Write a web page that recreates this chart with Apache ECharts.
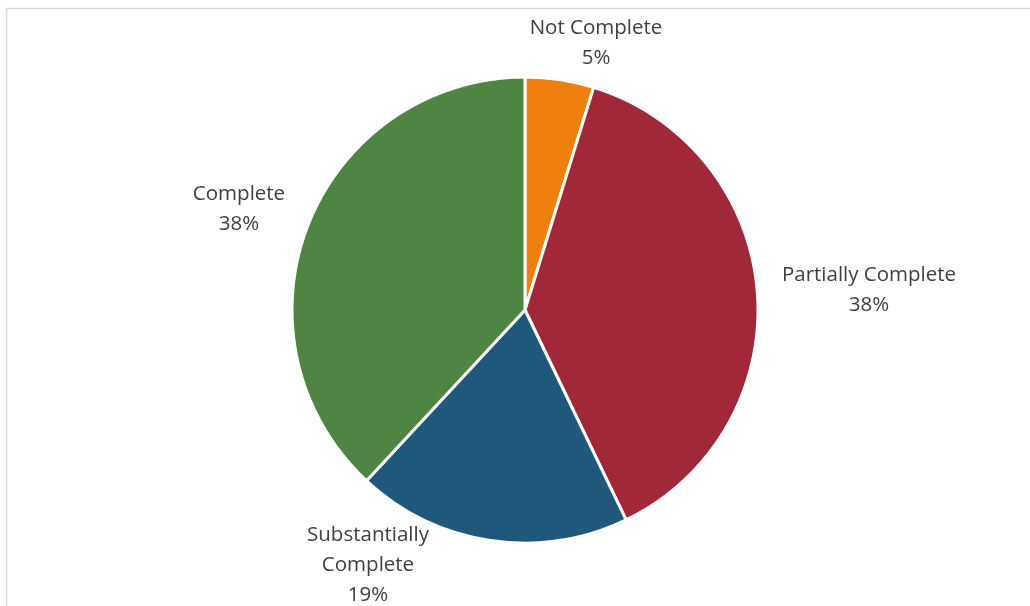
<!DOCTYPE html>
<html><head><meta charset="utf-8">
<script src="https://cdn.jsdelivr.net/npm/echarts@6/dist/echarts.min.js"></script>
<style>html,body{margin:0;padding:0;background:#fff}#c{width:1030px;height:606px}</style>
</head><body><div id="c"></div>
<script>
const categories = ['Not Complete', 'Partially Complete', 'Substantially\nComplete', 'Complete'];
const values = [2, 16, 8, 16];
const percentLabels = ['5%', '38%', '19%', '38%'];
const colors = ['#EF800E', '#A12838', '#1F587A', '#4E8543'];
const labelPos = [[596, 43], [869, 290], [368, 565], [239, 209]];

const chart = echarts.init(document.getElementById('c'), null, {renderer: 'canvas'});
chart.setOption({
  animation: false,
  backgroundColor: '#fff',
  graphic: [{
    type: 'rect', shape: {x: 6.5, y: 8.5, width: 1040, height: 620},
    style: {fill: 'none', stroke: '#D9D9D9', lineWidth: 1.5}, silent: true
  }],
  series: [{
    type: 'pie',
    center: [525, 310],
    radius: 233,
    startAngle: 90,
    clockwise: true,
    data: categories.map((c, i) => ({name: c, value: values[i], itemStyle: {color: colors[i]}})),
    itemStyle: {borderColor: '#fff', borderWidth: 3},
    label: {
      show: true,
      position: 'outside',
      formatter: p => p.name + '\n' + percentLabels[p.dataIndex],
      fontFamily: 'Open Sans',
      fontSize: 20.5,
      lineHeight: 30,
      color: '#404040',
      align: 'center'
    },
    labelLine: {show: false},
    labelLayout: p => ({x: labelPos[p.dataIndex][0], y: labelPos[p.dataIndex][1], align: 'center', verticalAlign: 'middle'})
  }]
});
</script></body></html>
